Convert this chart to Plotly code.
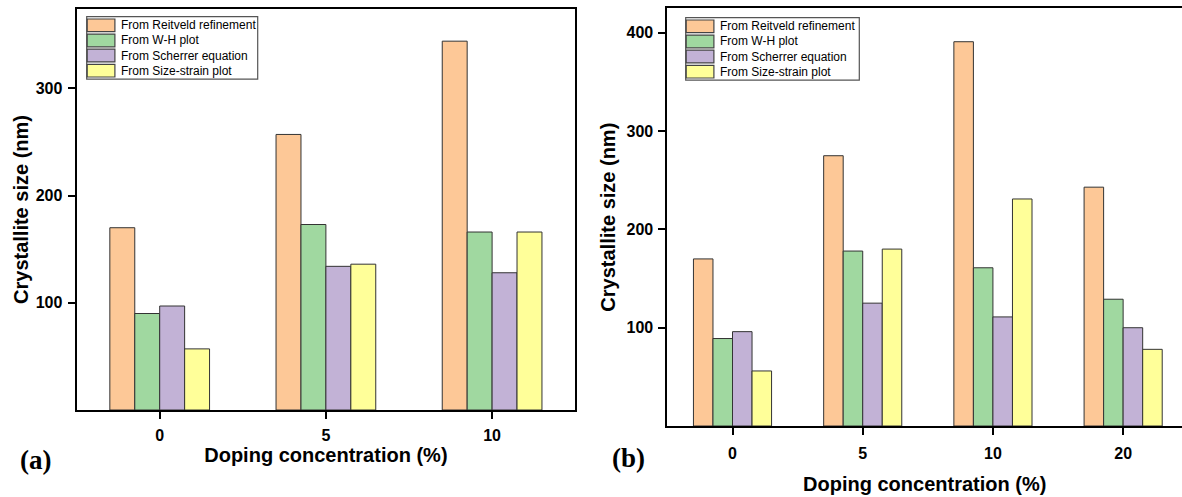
import plotly.graph_objects as go

W, H = 1182, 497

# ---------------- data ----------------
series_names = ["From Reitveld refinement", "From W-H plot",
                "From Scherrer equation", "From Size-strain plot"]
colors = ["#FDC897", "#A0D8A0", "#C2B2D6", "#FFFF99"]

cats_a = ["0", "5", "10"]
reitveld_a = [170, 257, 344]
wh_a = [90, 173, 166]
scherrer_a = [97, 134, 128]
sizestrain_a = [57, 136, 166]

cats_b = ["0", "5", "10", "20"]
reitveld_b = [170, 275, 391, 243]
wh_b = [89, 178, 161, 129]
scherrer_b = [96, 125, 111, 100]
sizestrain_b = [56, 180, 231, 78]

yticks_a = [100, 200, 300]
yticks_b = [100, 200, 300, 400]

x_title = "Doping concentration (%)"
y_title = "Crystallite size (nm)"

# ---------------- figure ----------------
fig = go.Figure()

panel_a = [reitveld_a, wh_a, scherrer_a, sizestrain_a]
panel_b = [reitveld_b, wh_b, scherrer_b, sizestrain_b]

for name, col, vals in zip(series_names, colors, panel_a):
    fig.add_trace(go.Bar(x=cats_a, y=vals, name=name, marker=dict(color=col, line=dict(color="#333333", width=1)),
                         xaxis="x", yaxis="y", showlegend=False))
for name, col, vals in zip(series_names, colors, panel_b):
    fig.add_trace(go.Bar(x=cats_b, y=vals, name=name, marker=dict(color=col, line=dict(color="#333333", width=1)),
                         xaxis="x2", yaxis="y2", showlegend=False))


def px_x(p):
    return p / W


def px_y(p):
    return 1 - p / H


tick_font = dict(family="Liberation Sans", size=16, color="black", weight="bold")
title_font = dict(family="Liberation Sans", size=20, color="black", weight="bold")

common_x = dict(type="category", showline=True, linecolor="black", linewidth=2,
                ticks="outside", ticklen=7, tickwidth=2, tickcolor="black",
                tickfont=tick_font, showgrid=False, zeroline=False)
common_y = dict(showline=True, linecolor="black", linewidth=2,
                ticks="outside", ticklen=7, tickwidth=2, tickcolor="black",
                tickfont=tick_font, showgrid=False, zeroline=False, ticklabelstandoff=2)

fig.update_layout(
    width=W, height=H,
    margin=dict(l=0, r=0, t=0, b=0),
    paper_bgcolor="white", plot_bgcolor="white",
    barmode="group", bargap=0.4, bargroupgap=0,
    showlegend=False,
    xaxis=dict(common_x, domain=[px_x(76.6), px_x(575.2)], range=[-0.5, 2.5], anchor="y", mirror=True,
               ticklabelstandoff=3,
               title=dict(text=x_title, font=title_font, standoff=4)),
    yaxis=dict(common_y, domain=[px_y(410), px_y(9)], range=[0, 374], anchor="x", mirror=True,
               tickvals=yticks_a, title=dict(text=y_title, font=title_font, standoff=2)),
    xaxis2=dict(common_x, domain=[px_x(667.4), 1.0], range=[-0.5, 3.452], anchor="y2", mirror=True,
                ticklabelstandoff=5,
                title=dict(text=x_title, font=title_font, standoff=16)),
    yaxis2=dict(common_y, domain=[px_y(426), px_y(8.3)], range=[0, 425], anchor="x2", mirror=False,
                tickvals=yticks_b, title=dict(text=y_title, font=title_font, standoff=5)),
)

# ---------------- legends (drawn as layout decoration) ----------------
shapes = []
annotations = []
legend_boxes = [(86.7, 16.7, 171.0), (685.7, 17.7, 173.6)]
row_pitch = 15.1
sw_w, sw_h = 27.7, 12.7
for (bx, by, bw) in legend_boxes:
    bh = 4 * row_pitch + 2
    shapes.append(dict(type="rect", xref="paper", yref="paper",
                       x0=px_x(bx), x1=px_x(bx + bw), y0=px_y(by + bh), y1=px_y(by),
                       line=dict(color="#555555", width=1.2), fillcolor="white", layer="above"))
    for i, (name, col) in enumerate(zip(series_names, colors)):
        top = by + 2.3 + i * row_pitch
        shapes.append(dict(type="rect", xref="paper", yref="paper",
                           x0=px_x(bx + 0.5), x1=px_x(bx + 0.5 + sw_w), y0=px_y(top + sw_h), y1=px_y(top),
                           line=dict(color="#444444", width=1.2), fillcolor=col, layer="above"))
        annotations.append(dict(xref="paper", yref="paper", x=px_x(bx + 32), y=px_y(top + sw_h / 2),
                                xanchor="left", yanchor="middle", text=name, showarrow=False,
                                font=dict(family="Liberation Sans", size=12, color="black")))

# panel labels
label_font = dict(family="Liberation Serif", size=27, color="black", weight="bold")
annotations.append(dict(xref="paper", yref="paper", x=px_x(35), y=px_y(460), text="(a)",
                        showarrow=False, xanchor="center", yanchor="middle", font=label_font))
annotations.append(dict(xref="paper", yref="paper", x=px_x(628), y=px_y(458), text="(b)",
                        showarrow=False, xanchor="center", yanchor="middle", font=label_font))

fig.update_layout(shapes=shapes, annotations=annotations)

fig.write_html("out.html")
